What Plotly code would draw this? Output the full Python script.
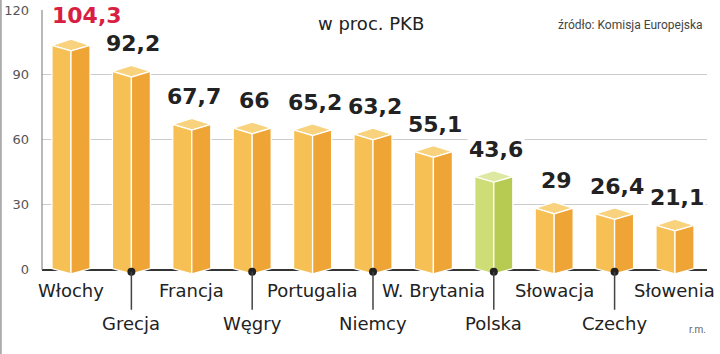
import plotly.graph_objects as go

# ---- data ----
categories = ["Włochy", "Grecja", "Francja", "Węgry", "Portugalia", "Niemcy",
              "W. Brytania", "Polska", "Słowacja", "Czechy", "Słowenia"]
values = [104.3, 92.2, 67.7, 66, 65.2, 63.2, 55.1, 43.6, 29, 26.4, 21.1]
value_labels = ["104,3", "92,2", "67,7", "66", "65,2", "63,2", "55,1", "43,6", "29", "26,4", "21,1"]
y_ticks = [0, 30, 60, 90, 120]
highlight_category = "Polska"
subtitle = "w proc. PKB"
source = "źródło: Komisja Europejska"
author = "r.m."

# ---- style ----
ORANGE = dict(left="#F6C055", right="#EEA536", top="#F8D27C")
GREEN = dict(left="#CEDD76", right="#B7CB52", top="#DDE8A0")
W = 0.315          # half width of a bar (x units)
TC, TB, TF = -0.6, 2.2, -3.2   # top corners / back apex / front apex offsets (y units)
BC, BF = 0.5, -2.0             # bottom corners / bottom front apex

L, R, T, B = 42, 13, 10, 80
WIDTH, HEIGHT = 720, 354
pw, ph = WIDTH - L - R, HEIGHT - T - B
xr = [-0.48, 10.53]
yr = [-2, 120]

def px_x(px):
    return (px - L) / pw

def px_y(py):
    return (HEIGHT - B - py) / ph

fig = go.Figure()

faces = {}
for i, (cat, v) in enumerate(zip(categories, values)):
    pal = GREEN if cat == highlight_category else ORANGE
    c = i
    polys = {
        "top": ([c - W, c, c + W, c, c - W], [v + TC, v + TB, v + TC, v + TF, v + TC]),
        "left": ([c - W, c, c, c - W, c - W], [v + TC, v + TF, BF, BC, v + TC]),
        "right": ([c, c + W, c + W, c, c], [v + TF, v + TC, BC, BF, v + TF]),
    }
    for face, (xs, ys) in polys.items():
        key = pal[face]
        fx, fy = faces.setdefault(key, ([], []))
        fx.extend(xs + [None])
        fy.extend(ys + [None])

for color, (fx, fy) in faces.items():
    fig.add_trace(go.Scatter(x=fx, y=fy, mode="lines", fill="toself", fillcolor=color,
                             line=dict(color="white", width=1.3), hoverinfo="skip",
                             showlegend=False))

# dots for lower-row labels
dot_x = [i for i in range(len(categories)) if i % 2 == 1]
fig.add_trace(go.Scatter(x=dot_x, y=[-1] * len(dot_x), mode="markers",
                         marker=dict(size=8, color="#222"), cliponaxis=False,
                         hoverinfo="skip", showlegend=False))

annotations = []
for i, (v, lab) in enumerate(zip(values, value_labels)):
    first = i == 0
    annotations.append(dict(
        x=i - W - 0.03 if first else i, y=v + TB, xref="x", yref="y",
        text=lab, showarrow=False, xanchor="left" if first else "center",
        yanchor="bottom", yshift=9 if first else 7, xshift=0 if first else 2,
        bgcolor="white", borderpad=1,
        font=dict(family="DejaVu Sans", size=22, weight="bold",
                  color="#D81E42" if first else "#222")))

for i, cat in enumerate(categories):
    if i % 2 == 0:
        annotations.append(dict(x=i, y=0, xref="x", yref="y", text=cat, showarrow=False,
                                xanchor="center", yanchor="middle", yshift=-21,
                                font=dict(family="DejaVu Sans", size=18, color="#222")))
    else:
        annotations.append(dict(x=i, y=-1, xref="x", yref="y", text=cat, showarrow=True,
                                ax=0, ay=52, arrowhead=0, arrowwidth=1.5, arrowcolor="#444",
                                standoff=0, startstandoff=2, xanchor="center", yanchor="middle",
                                font=dict(family="DejaVu Sans", size=18, color="#222")))

annotations.append(dict(x=px_x(371), y=px_y(24), xref="paper", yref="paper", text=subtitle,
                        showarrow=False, xanchor="center", yanchor="middle",
                        font=dict(family="DejaVu Sans", size=18, color="#222")))
annotations.append(dict(x=px_x(705), y=px_y(25), xref="paper", yref="paper", text=source,
                        showarrow=False, xanchor="right", yanchor="middle",
                        font=dict(family="Roboto", size=12, color="#444")))
annotations.append(dict(x=px_x(708), y=px_y(329), xref="paper", yref="paper", text=author,
                        showarrow=False, xanchor="right", yanchor="middle",
                        font=dict(family="Roboto", size=10, color="#666")))

shapes = [
    dict(type="line", xref="paper", yref="y", x0=0, x1=0, y0=0, y1=120,
         line=dict(color="#8a8a8a", width=1.2)),
    dict(type="line", xref="paper", yref="paper", x0=px_x(0.8), x1=px_x(0.8),
         y0=px_y(0), y1=px_y(354), line=dict(color="#aaaaaa", width=2)),
]

fig.update_layout(
    width=WIDTH, height=HEIGHT,
    margin=dict(l=L, r=R, t=T, b=B, pad=0, autoexpand=False),
    paper_bgcolor="white", plot_bgcolor="white",
    annotations=annotations, shapes=shapes,
    xaxis=dict(range=xr, showgrid=False, zeroline=False, showticklabels=False,
               showline=False, ticks="", automargin=False),
    yaxis=dict(range=yr, tickvals=y_ticks, ticktext=[str(t) for t in y_ticks],
               showgrid=True, gridcolor="#cccccc", gridwidth=1,
               zeroline=True, zerolinecolor="#333333", zerolinewidth=2,
               showline=False, ticks="", ticklabelstandoff=12, automargin=False,
               tickfont=dict(family="DejaVu Sans", size=13, color="#555")),
)

fig.write_html("out.html")
